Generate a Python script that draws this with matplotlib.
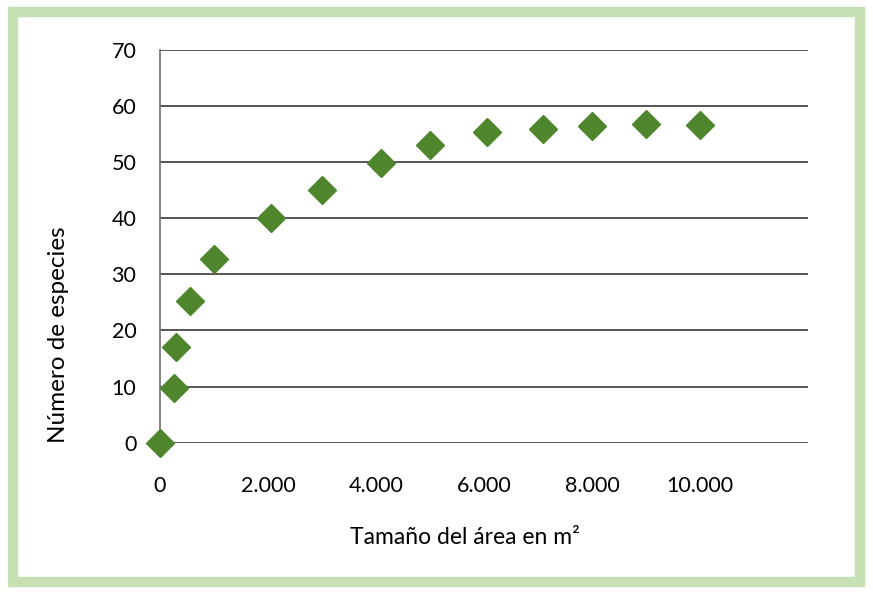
import matplotlib.pyplot as plt
from matplotlib.patches import Rectangle
from matplotlib.ticker import FuncFormatter

plt.rcParams['font.family'] = ['Lato', 'DejaVu Sans']

# area (m2) vs number of species
area = [0, 250, 300, 550, 1000, 2050, 3000, 4100, 5000, 6050, 7100, 8000, 9000, 10000]
especies = [0, 9.8, 17.0, 25.3, 32.8, 40.1, 45.1, 49.9, 53.1, 55.3, 55.9, 56.5, 56.8, 56.6]
x_ticks = [0, 2000, 4000, 6000, 8000, 10000]
y_ticks = [0, 10, 20, 30, 40, 50, 60, 70]

fig = plt.figure(figsize=(8.73, 5.95), dpi=100)
ax = fig.add_axes([0.1833, 0.256, 0.7422, 0.66])

# light green frame round the whole chart
fig.patches.append(Rectangle((0.0148, 0.0215), 0.9704, 0.9575, transform=fig.transFigure,
                             fill=False, edgecolor='#C6E0B4', linewidth=7.5))

ax.plot(area, especies, linestyle='none', marker='D', markersize=14.5,
        color='#4F862D', markeredgecolor='#4F862D', clip_on=False, zorder=3)

ax.set_xlim(0, 12000)
ax.set_ylim(0, 70)
ax.set_xticks(x_ticks)
ax.set_yticks(y_ticks)
ax.xaxis.set_major_formatter(FuncFormatter(lambda v, p: f'{int(v):,}'.replace(',', '.')))
ax.grid(axis='y', color='#3a3a3a', linewidth=1.2)
ax.set_axisbelow(True)
for s in ['top', 'right', 'bottom']:
    ax.spines[s].set_visible(False)
ax.spines['left'].set_color('#6e6e6e')
ax.spines['left'].set_linewidth(1.2)
ax.tick_params(axis='both', length=0, labelsize=15.5, colors='#000000')
ax.tick_params(axis='y', pad=17)
ax.tick_params(axis='x', pad=24)

ax.set_ylabel('Número de especies', fontsize=17.5)
ax.yaxis.set_label_coords(-0.140, 0.274)
ax.set_xlabel('Tamaño del área en m²', fontsize=16.5)
ax.xaxis.set_label_coords(0.47, -0.215)

fig.savefig('out.png', dpi=100)
